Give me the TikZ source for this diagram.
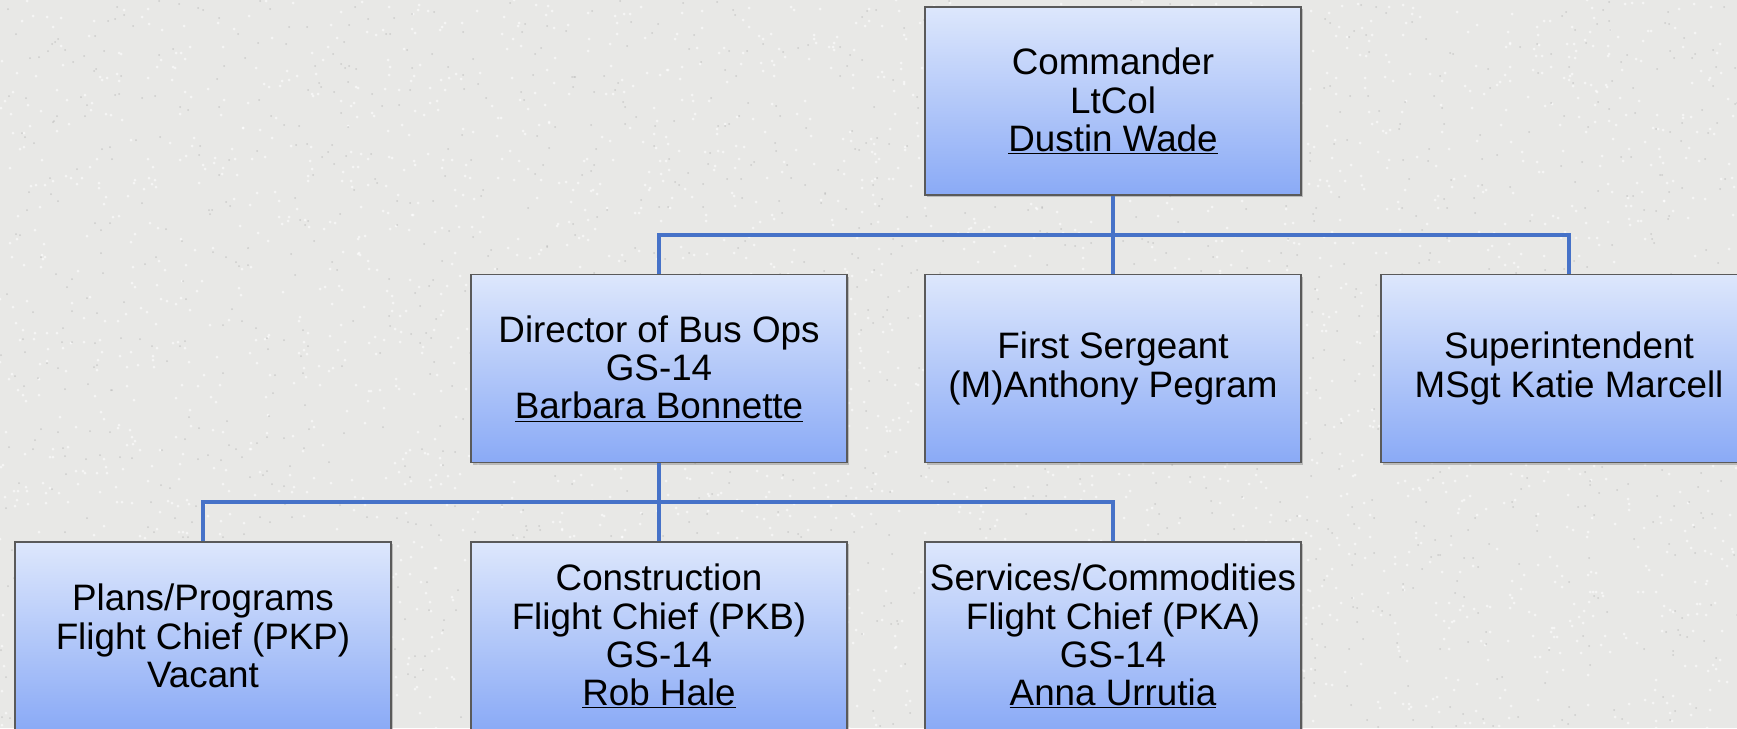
\documentclass[tikz,border=0pt]{standalone}
\usepackage{fontspec}
\setmainfont{Liberation Sans}
\usetikzlibrary{shadows}
\definecolor{bgc}{RGB}{232,232,230}
\definecolor{topc}{RGB}{221,231,252}
\definecolor{botc}{RGB}{138,170,246}
\definecolor{linec}{RGB}{70,114,200}
\definecolor{edgec}{RGB}{90,90,90}
\tikzset{
  orgbox/.style={rectangle, draw=edgec, line width=1.2pt, top color=topc, bottom color=botc,
    minimum width=376pt, minimum height=188pt, align=center, inner sep=0pt,
    font=\fontsize{36.8}{38.3}\selectfont, text=black,
    drop shadow={shadow xshift=2pt, shadow yshift=-2pt, opacity=0.35, fill=black!60}},
  conn/.style={draw=linec, line width=4.5pt},
  speck/.style={fill=white, opacity=0.6}
}
\begin{document}
\begin{tikzpicture}[x=1pt,y=-1pt]
\useasboundingbox (0,0) rectangle (1737,728);
\clip (0,0) rectangle (1737,728);
\fill[bgc] (0,0) rectangle (1737,728);
\pgfmathsetseed{7}
\foreach \i in {1,...,3000}{
  \pgfmathsetmacro{\px}{random(0,1737)}
  \pgfmathsetmacro{\py}{random(0,728)}
  \fill[speck] (\px,\py) circle (1.5pt);
}
\pgfmathsetseed{11}
\foreach \i in {1,...,1500}{
  \pgfmathsetmacro{\px}{random(0,1737)}
  \pgfmathsetmacro{\py}{random(0,728)}
  \fill[black!30, opacity=0.5] (\px,\py) circle (1pt);
}
\coordinate (b1) at (1113,235);
\coordinate (b2) at (659,502);
% boxes
\node[orgbox] (cmd) at (1113,101) {Commander\\LtCol\\\underline{Dustin Wade}};
\node[orgbox] (dir) at (659,368.5) {Director of Bus Ops\\GS-14\\\underline{Barbara Bonnette}};
\node[orgbox] (fs) at (1113,368.5) {First Sergeant\\(M)Anthony Pegram};
\node[orgbox] (sup) at (1569,368.5) {Superintendent\\MSgt Katie Marcell};
\node[orgbox] (plans) at (203,636) {Plans/Programs\\Flight Chief (PKP)\\Vacant};
\node[orgbox] (cons) at (659,636) {Construction\\Flight Chief (PKB)\\GS-14\\\underline{Rob Hale}};
\node[orgbox] (serv) at (1113,636) {Services/Commodities\\Flight Chief (PKA)\\GS-14\\\underline{Anna Urrutia}};
% connectors
\draw[conn] (cmd.south) -- (b1);
\draw[conn] (b1) -| (dir.north);
\draw[conn] (b1) -- (fs.north);
\draw[conn] (b1) -| (sup.north);
\draw[conn] (dir.south) -- (b2);
\draw[conn] (b2) -| (plans.north);
\draw[conn] (b2) -- (cons.north);
\draw[conn] (b2) -| (serv.north);
\end{tikzpicture}
\end{document}
